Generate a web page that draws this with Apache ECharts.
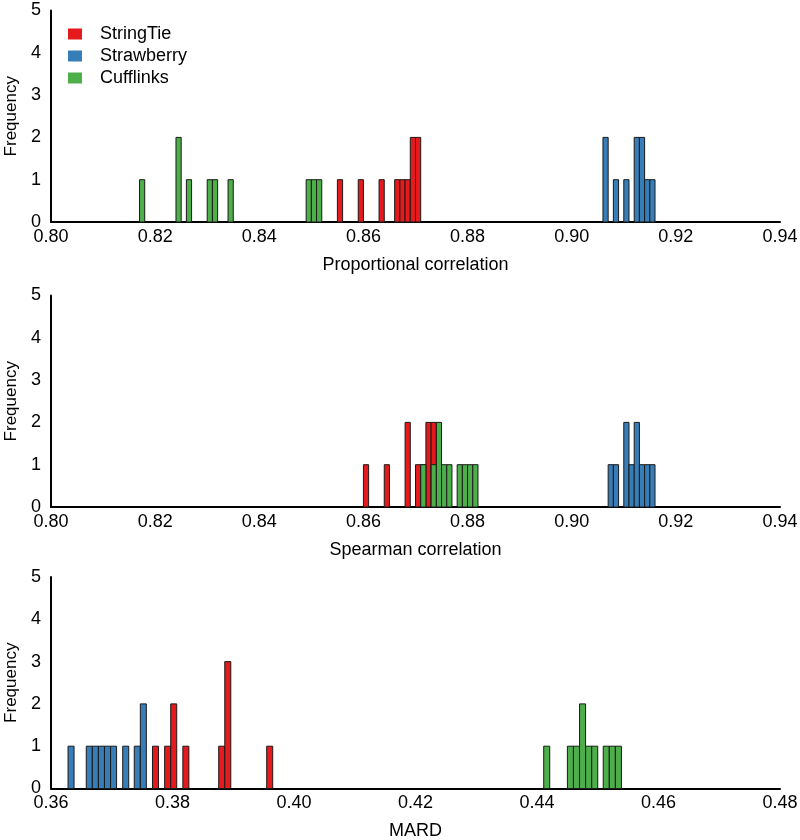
<!DOCTYPE html>
<html>
<head>
<meta charset="utf-8">
<script src="https://cdn.jsdelivr.net/npm/echarts@6/dist/echarts.min.js"></script>
<style>html,body{margin:0;padding:0;background:#fff}#c{width:800px;height:840px}</style>
</head>
<body>
<div id="c"></div>
<script>
// ---- data: bin centres and counts ----
const methods = ['StringTie', 'Strawberry', 'Cufflinks'];
const panelTitles = ['Proportional correlation', 'Spearman correlation', 'MARD'];
const xMins = [0.80, 0.80, 0.36];
const xMaxs = [0.94, 0.94, 0.48];
const binWidths = [0.001, 0.001, 0.00099];
const yTicks = [0, 1, 2, 3, 4, 5];

// Panel 1: Proportional correlation
const stringtie1 = [[0.8555,1],[0.8595,1],[0.8635,1],[0.8665,1],[0.8675,1],[0.8685,1],[0.8695,2],[0.8705,2]];
const strawberry1 = [[0.9065,2],[0.9085,1],[0.9105,1],[0.9125,2],[0.9135,2],[0.9145,1],[0.9155,1]];
const cufflinks1 = [[0.8175,1],[0.8245,2],[0.8265,1],[0.8305,1],[0.8315,1],[0.8345,1],[0.8495,1],[0.8505,1],[0.8515,1]];

// Panel 2: Spearman correlation
const stringtie2 = [[0.8605,1],[0.8645,1],[0.8685,2],[0.8705,1],[0.8715,1],[0.8725,2],[0.8735,2]];
const strawberry2 = [[0.9075,1],[0.9085,1],[0.9105,2],[0.9115,1],[0.9125,2],[0.9135,1],[0.9145,1],[0.9155,1]];
const cufflinks2 = [[0.8715,1],[0.8735,1],[0.8745,2],[0.8755,1],[0.8765,1],[0.8785,1],[0.8795,1],[0.8805,1],[0.8815,1]];

// Panel 3: MARD
const stringtie3 = [[0.3772,1],[0.3792,1],[0.3802,2],[0.3822,1],[0.3881,1],[0.3891,3],[0.3960,1]];
const strawberry3 = [[0.3633,1],[0.3663,1],[0.3673,1],[0.3683,1],[0.3693,1],[0.3703,1],[0.3723,1],[0.3742,1],[0.3752,2]];
const cufflinks3 = [[0.4416,1],[0.4455,1],[0.4465,1],[0.4475,2],[0.4485,1],[0.4495,1],[0.4514,1],[0.4524,1],[0.4534,1]];

const panelData = [
  [stringtie1, strawberry1, cufflinks1],
  [stringtie2, strawberry2, cufflinks2],
  [stringtie3, strawberry3, cufflinks3]
];

// ---- styling / layout ----
const colors = ['#e41a1c', '#377eb8', '#4daf4a'];
const FONT = 'Liberation Sans, Arial, Helvetica, sans-serif';
const gridTops = [10.5, 295.5, 577];
const gridH = 211.5;

const grids = [], xAxes = [], yAxes = [], series = [];
for (let p = 0; p < 3; p++) {
  grids.push({left: 51, right: 20, top: gridTops[p], height: gridH, containLabel: false, outerBoundsMode: 'none'});
  xAxes.push({
    type: 'value', gridIndex: p, min: xMins[p], max: xMaxs[p], interval: 0.02,
    name: panelTitles[p], nameLocation: 'middle', nameGap: 34,
    nameTextStyle: {fontFamily: FONT, fontSize: 18, color: '#000'},
    axisLine: {show: true, onZero: false, lineStyle: {color: '#000', width: 2}},
    axisTick: {show: false},
    splitLine: {show: false},
    axisLabel: {fontFamily: FONT, fontSize: 18, color: '#000', margin: 6,
      formatter: v => v.toFixed(2)}
  });
  yAxes.push({
    type: 'value', gridIndex: p, min: yTicks[0], max: yTicks[yTicks.length - 1], interval: 1,
    name: 'Frequency', nameLocation: 'middle', nameGap: 30, nameRotate: 90,
    nameTextStyle: {fontFamily: FONT, fontSize: 17, color: '#000'},
    axisLine: {show: true, lineStyle: {color: '#000', width: 2}},
    axisTick: {show: false},
    splitLine: {show: false},
    axisLabel: {fontFamily: FONT, fontSize: 18, color: '#000', margin: 10}
  });
  const w = binWidths[p];
  for (let m = 0; m < 3; m++) {
    series.push({
      type: 'custom', name: methods[m], xAxisIndex: p, yAxisIndex: p,
      itemStyle: {color: colors[m], borderColor: '#1a1a1a', borderWidth: 1},
      encode: {x: 0, y: 1},
      data: panelData[p][m],
      renderItem: function (params, api) {
        const c = api.value(0), n = api.value(1);
        const p0 = api.coord([c - w / 2, n]);
        const p1 = api.coord([c + w / 2, 0]);
        return {
          type: 'rect',
          shape: {x: p0[0], y: p0[1], width: p1[0] - p0[0], height: p1[1] - p0[1]},
          style: api.style({fill: colors[m], stroke: '#1a1a1a', lineWidth: 1})
        };
      },
      z: 2 + m
    });
  }
}

const chart = echarts.init(document.getElementById('c'), null, {renderer: 'canvas'});
chart.setOption({
  animation: false,
  backgroundColor: '#fff',
  legend: {
    data: methods.map((n, i) => ({name: n, icon: 'rect', itemStyle: {color: colors[i], borderWidth: 0}})),
    orient: 'vertical', left: 68, top: 25, padding: 0,
    itemWidth: 14, itemHeight: 11, itemGap: 4,
    textStyle: {fontFamily: FONT, fontSize: 18, color: '#000', padding: [0, 0, 0, 13]},
    selectedMode: false
  },
  grid: grids, xAxis: xAxes, yAxis: yAxes, series: series
});
</script>
</body>
</html>
